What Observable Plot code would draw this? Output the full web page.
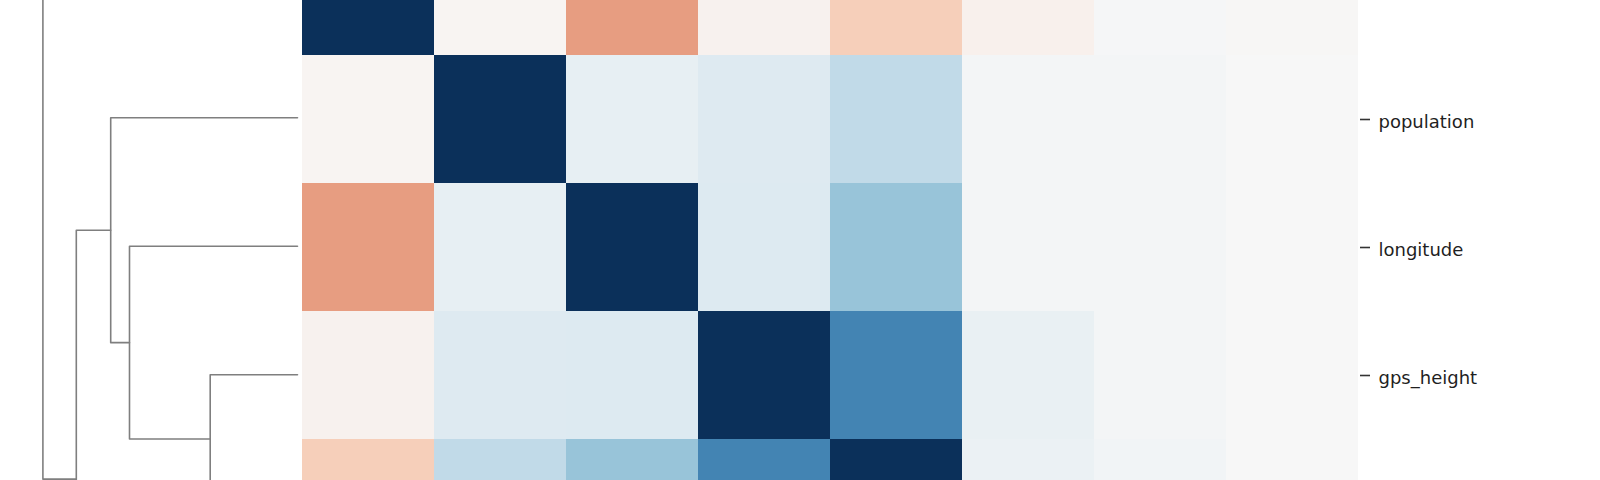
<!DOCTYPE html>
<html>
<head>
<meta charset="utf-8">
<script src="https://cdn.jsdelivr.net/npm/d3@7"></script>
<script src="https://cdn.jsdelivr.net/npm/@observablehq/plot@0.6"></script>
<style>
  html, body { margin: 0; padding: 0; background: #fff; }
  #wrap { position: relative; width: 1600px; height: 480px; overflow: hidden; background: #fff; }
  #wrap > svg, #wrap > figure { position: absolute; left: 0; top: 0; margin: 0; }
</style>
</head>
<body>
<div id="wrap"></div>
<script>
// Variables in clustered (leaf) order
const variables = ["latitude", "population", "longitude", "gps_height", "construction_year", "amount_tsh", "num_private", "id"];

// Correlation matrix rows (same order as variables)
const corrLatitude        = [ 1.00, -0.02, -0.43, -0.04, -0.25, -0.05,  0.01, -0.01];
const corrPopulation      = [-0.02,  1.00,  0.09,  0.14,  0.26,  0.02,  0.02,  0.00];
const corrLongitude       = [-0.43,  0.09,  1.00,  0.15,  0.40,  0.02,  0.02,  0.00];
const corrGpsHeight       = [-0.04,  0.14,  0.15,  1.00,  0.66,  0.08,  0.02,  0.00];
const corrConstruction    = [-0.25,  0.26,  0.40,  0.66,  1.00,  0.07,  0.03,  0.00];
const corrAmountTsh       = [-0.05,  0.02,  0.02,  0.08,  0.07,  1.00,  0.00,  0.00];
const corrNumPrivate      = [ 0.01,  0.02,  0.02,  0.02,  0.03,  0.00,  1.00,  0.00];
const corrId              = [-0.01,  0.00,  0.00,  0.00,  0.00,  0.00,  0.00,  1.00];
const corrRows = [corrLatitude, corrPopulation, corrLongitude, corrGpsHeight, corrConstruction, corrAmountTsh, corrNumPrivate, corrId];

// Hierarchical linkage (scipy style): [childA, childB, distance]; leaves 0..7, new nodes from 8
const linkage = [
  [3, 4, 0.873],
  [2, 8, 1.680],
  [1, 9, 1.868],
  [6, 7, 1.150],
  [5, 11, 1.620],
  [10, 12, 2.212],
  [0, 13, 2.546]
];

// Matplotlib RdBu colour stops
const rdbu = ["#67001f", "#b2182b", "#d6604d", "#f4a582", "#fddbc7", "#f7f7f7", "#d1e5f0", "#92c5de", "#4393c3", "#2166ac", "#053061"];

// ---- derived tables ----
const cells = [];
variables.forEach((r, i) => variables.forEach((c, j) => cells.push({row: r, col: c, value: corrRows[i][j]})));

const nLeaves = variables.length;
const nodeY = d3.range(nLeaves).map(i => i + 0.5);
const nodeH = d3.range(nLeaves).map(() => 0);
const dendro = [];
linkage.forEach(([a, b, h], k) => {
  dendro.push({id: k, h: nodeH[a], y: nodeY[a]});
  dendro.push({id: k, h: h, y: nodeY[a]});
  dendro.push({id: k, h: h, y: nodeY[b]});
  dendro.push({id: k, h: nodeH[b], y: nodeY[b]});
  nodeY.push((nodeY[a] + nodeY[b]) / 2);
  nodeH.push(h);
});

// slightly muted version of the colormap, as in the reference rendering
const baseInterp = d3.piecewise(d3.interpolateRgb, rdbu);
const muted = t => {
  const c = d3.rgb(baseInterp(t));
  const m = (c.r + c.g + c.b) / 3;
  const k = 0.14;
  return d3.rgb(c.r + (m - c.r) * k, c.g + (m - c.g) * k, c.b + (m - c.b) * k).formatHex();
};

const rowRange = [-75.5, -75.5 + 128.5 * nLeaves];
const wrap = document.getElementById("wrap");

// Dendrogram
const dendroPlot = Plot.plot({
  width: 301, height: 480,
  margin: 0,
  x: {type: "linear", domain: [2.97, 0], range: [0, 297], axis: null},
  y: {type: "linear", domain: [0, nLeaves], range: rowRange, axis: null},
  marks: [
    Plot.line(dendro, {x: "h", y: "y", z: "id", stroke: "#7f7f7f", strokeWidth: 1.6, curve: "linear"})
  ]
});
wrap.appendChild(dendroPlot);

// Heatmap
const heat = Plot.plot({
  width: 1600, height: 480,
  marginLeft: 301.5, marginRight: 241, marginTop: 0, marginBottom: 0,
  style: {fontFamily: "DejaVu Sans, sans-serif", background: "transparent"},
  x: {type: "band", domain: variables, padding: 0, axis: null},
  y: {type: "band", domain: variables, range: rowRange, padding: 0, axis: null},
  color: {type: "linear", domain: [-1, 1], interpolate: muted},
  marks: [
    Plot.cell(cells, {x: "col", y: "row", fill: "value", inset: 0}),
    Plot.axisY(variables, {anchor: "right", tickSize: 10, tickFormat: () => "", stroke: "#333", strokeWidth: 1.6, label: null}),
    Plot.axisY(variables, {anchor: "right", tickSize: 0, tickPadding: 19, fontSize: 18, dy: 3, label: null, fill: "#1f1f1f"})
  ]
});
wrap.appendChild(heat);
</script>
</body>
</html>
